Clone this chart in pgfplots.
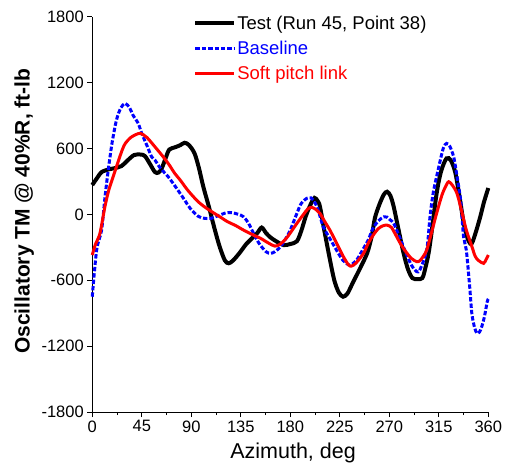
\documentclass[border=0pt]{standalone}
\usepackage{pgfplots}
\pgfplotsset{compat=1.18}
\usepackage{fontspec}
\setmainfont{Liberation Sans}
\usetikzlibrary{calc}
\definecolor{myblue}{RGB}{0,0,255}
\definecolor{myred}{RGB}{255,0,0}
\begin{document}
\begin{tikzpicture}
\begin{axis}[
  name=ax,
  scale only axis,
  width=396.3pt, height=395.6pt,
  xmin=0, xmax=360, ymin=-1800, ymax=1800,
  axis lines=left,
  axis line style={-, line width=1pt},
  xtick={0,45,...,360},
  ytick={-1800,-1200,...,1800},
  minor x tick num=1,
  tick align=outside,
  major tick length=5pt,
  minor tick length=3pt,
  tick style={line width=0.9pt, black},
  /pgf/number format/assume math mode=true,
  /pgf/number format/1000 sep={},
  ticklabel style={font=\fontsize{16.5}{16.5}\selectfont},
  xlabel={Azimuth, deg},
  ylabel={\bfseries Oscillatory TM @ 40\%R, ft-lb},
  xlabel style={font=\fontsize{21.5}{21.5}\selectfont, at={(axis description cs:0.507,-0.118)}, anchor=base},
  ylabel style={font=\fontsize{21}{21}\selectfont, at={(axis description cs:-0.172,0.508)}, anchor=center},
  legend style={at={(axis description cs:0.2548,1.008)}, anchor=north west, draw=none, fill=none,
    font=\fontsize{18.5}{18.5}\selectfont, row sep=6.3pt, inner sep=0pt,
    nodes={inner xsep=1.5pt},
    cells={anchor=west}},
  legend image code/.code={\draw[#1] (0pt,0pt) -- (38.5pt,0pt);},
  legend cell align=left,
  clip=false,
]
\addplot[black, line width=4pt, smooth, tension=0.5] coordinates {
(0,267)(5,340)(8.5,385)(15,410)(20,420)(26.6,440)(32,490)(38,540)(44,545)(48,530)
(53,450)(57,385)(60,380)(63,415)(67,520)(70,590)(75,610)(80,630)(84,652)(88,630)
(93,555)(97,420)(101,250)(106,70)(111.5,-143)(116,-300)(120.6,-420)(124,-445)(128,-420)
(134,-350)(140,-270)(146,-210)(150,-170)(154,-120)(158,-170)(162,-210)(168,-250)(174,-280)
(180,-270)(186,-245)(190,-150)(194,-20)(198,80)(202,150)(205,120)(207,70)(211,-150)
(216,-410)(220,-600)(224,-710)(228,-750)(232,-720)(236,-640)(240,-560)(244,-480)(250,-350)
(254,-200)(257,-30)(261,90)(265,180)(268,206)(271,170)(274,70)(278,-120)(283,-355)
(287,-500)(291,-580)(296,-590)(300,-580)(302,-520)(305.7,-355)(309,-120)(313,190)(317,390)
(322,510)(326,490)(330,380)(334,150)(338,-100)(342,-240)(345,-264)(349,-150)(353,-10)
(356,110)(360,240)};
\addlegendentry{Test (Run 45, Point 38)}
\addplot[myblue, line width=3pt, dash pattern=on 4.4pt off 2pt, smooth, tension=0.5] coordinates {
(0,-750)(4,-325)(8.5,-143)(11.5,150)(14.5,400)(18,650)(22,858)(26,970)(30,1010)(34,970)
(37,904)(41.8,828)(45,737)(50,620)(54,524)(57,494)(62,420)(69,343)(76.7,237)(84,130)
(89,55)(96,-16)(102,-36)(108,-36)(115,-10)(122,15)(127,15)(133,0)(137.5,-22)(142,-80)
(146.6,-173)(152,-270)(158,-340)(162,-355)(166,-340)(171,-295)(176,-220)(180,-143)(186,9)
(190,100)(195,146)(199,150)(201,130)(205,50)(210,-113)(216,-220)(222,-325)(228,-420)
(234,-461)(240,-420)(246,-320)(251,-230)(255,-130)(260,-60)(265,-22)(268,-25)(271,-52)
(274,-82)(279,-200)(284,-325)(290,-460)(295,-522)(298,-500)(304,-325)(307,-22)(310,200)
(315,433)(319,600)(322,646)(325,620)(328.5,524)(331,380)(334.8,130)(337.5,-204)(340,-325)
(343,-650)(345,-900)(347.5,-1030)(349.7,-1083)(352,-1070)(354,-1023)(356.5,-930)(359,-795)(360,-770)};
\addlegendentry{\textcolor{myblue}{Baseline}}
\addplot[myred, line width=3pt, smooth, tension=0.5] coordinates {
(0,-370)(3,-270)(7,-173)(11.5,69)(15,220)(19,343)(23,464)(27,580)(30,646)(35,700)
(40,728)(44,737)(49.7,700)(57,615)(64.5,524)(70,450)(75,373)(80,312)(86,230)(92,160)
(98,100)(104,55)(111,9)(116,-22)(123,-67)(130,-100)(137.5,-143)(146.6,-189)(153,-218)
(160,-260)(166,-289)(171,-270)(177,-210)(182,-140)(186,-82)(192,0)(196,50)(199.7,64)
(204,39)(207,9)(211,-60)(216,-143)(222,-260)(228,-380)(233,-461)(236,-470)(240,-440)
(246.6,-355)(251,-260)(256,-180)(260,-130)(264,-105)(268,-98)(272,-120)(276,-190)
(280,-264)(285,-340)(290,-400)(295,-431)(298,-420)(301,-380)(304,-325)(308,-180)(313,9)
(318,180)(322,270)(324,297)(327,270)(331.5,191)(336,20)(340,-143)(345,-290)(348,-380)
(351,-419)(355.7,-446)(358,-410)(360,-370)};
\addlegendentry{\textcolor{myred}{Soft pitch link}}
\end{axis}
\pgfresetboundingbox
\path[use as bounding box] ($(ax.south west)+(-92.3pt,-55.7pt)$) rectangle ($(ax.north east)+(18.7pt,16.7pt)$);
\end{tikzpicture}
\end{document}
